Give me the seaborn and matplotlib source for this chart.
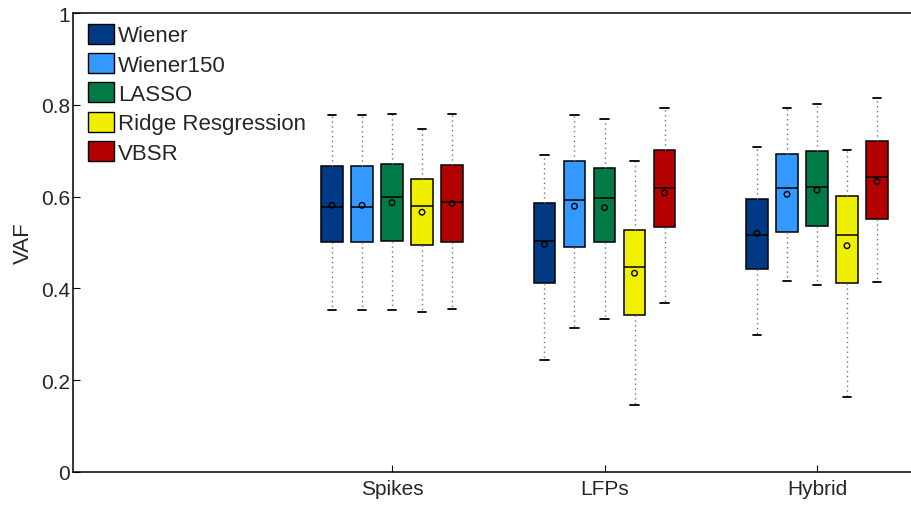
import numpy as np
import pandas as pd
import matplotlib
matplotlib.use("Agg")
import matplotlib.pyplot as plt
import seaborn as sns
from matplotlib.patches import Patch

features = ["Spikes", "LFPs", "Hybrid"]
methods = ["Wiener", "Wiener150", "LASSO", "Ridge Resgression", "VBSR"]
colors = ["#003a85", "#3399ff", "#007b47", "#f0ef00", "#b50000"]

# per feature: [whisker_low, q1, median, q3, whisker_high]
wiener = [[0.354, 0.502, 0.577, 0.666, 0.777],
          [0.245, 0.411, 0.503, 0.585, 0.691],
          [0.298, 0.443, 0.517, 0.595, 0.707]]
wiener150 = [[0.354, 0.502, 0.577, 0.666, 0.777],
             [0.314, 0.491, 0.593, 0.678, 0.777],
             [0.416, 0.523, 0.619, 0.693, 0.793]]
lasso = [[0.353, 0.504, 0.600, 0.670, 0.780],
         [0.334, 0.502, 0.598, 0.662, 0.770],
         [0.407, 0.536, 0.622, 0.700, 0.801]]
ridge = [[0.349, 0.495, 0.579, 0.639, 0.747],
         [0.145, 0.341, 0.447, 0.528, 0.678],
         [0.164, 0.412, 0.517, 0.601, 0.702]]
vbsr = [[0.355, 0.502, 0.588, 0.668, 0.780],
        [0.369, 0.533, 0.618, 0.702, 0.792],
        [0.415, 0.552, 0.643, 0.721, 0.814]]

means_wiener = [0.581, 0.496, 0.520]
means_wiener150 = [0.581, 0.579, 0.605]
means_lasso = [0.587, 0.576, 0.614]
means_ridge = [0.566, 0.433, 0.493]
means_vbsr = [0.585, 0.608, 0.633]

yticks = [0, 0.2, 0.4, 0.6, 0.8, 1]
ytick_labels = ["0", "0.2", "0.4", "0.6", "0.8", "1"]

all_stats = [wiener, wiener150, lasso, ridge, vbsr]
all_means = [means_wiener, means_wiener150, means_lasso, means_ridge, means_vbsr]

rows = []
for m, stats in zip(methods, all_stats):
    for f, s in zip(features, stats):
        for v in s:
            rows.append({"feature": f, "method": m, "VAF": v})
df = pd.DataFrame(rows)

sns.set_theme(style="white")
plt.rcParams["font.family"] = ["Liberation Sans", "DejaVu Sans"]
plt.rcParams["xtick.direction"] = "in"
plt.rcParams["ytick.direction"] = "in"

fig = plt.figure(figsize=(9.12, 5.06), dpi=100)
px_left, px_right, px_top, px_bottom = 73, 925, 14, 473
axw, axh = px_right - px_left, px_bottom - px_top
ax = fig.add_axes([px_left / 912, 1 - px_bottom / 506, axw / 912, axh / 506])

n = len(methods)
dodge_width = 0.706
step = dodge_width / n

sns.boxplot(data=df, x="feature", y="VAF", hue="method", order=features,
            hue_order=methods, palette=colors, saturation=1, whis=(0, 100),
            width=dodge_width, gap=0.28, linecolor="black", linewidth=1.1,
            showfliers=False, legend=False, ax=ax,
            whiskerprops=dict(linestyle=(0, (1, 2.5)), color="0.45", linewidth=1),
            capprops=dict(color="black", linewidth=1.3),
            medianprops=dict(color="black", linewidth=1.1),
            capwidths=0.041)

mx, my = [], []
for j, means in enumerate(all_means):
    for i, v in enumerate(means):
        mx.append(i + (j - (n - 1) / 2) * step)
        my.append(v)
ax.scatter(mx, my, s=16, facecolors="none", edgecolors="black", linewidths=1, zorder=6)

scale = 212.5
left = -(392 - px_left) / scale
right = (px_right - 392) / scale
ax.set_xlim(left, right)
ax.set_ylim(0, 1)
ax.set_xticks(range(len(features)))
ax.set_xticklabels(features, fontsize=15)
ax.set_yticks(yticks)
ax.set_yticklabels(ytick_labels, fontsize=15)
ax.tick_params(axis="x", length=5, width=0.8, color="black", pad=5, bottom=True)
ax.tick_params(axis="y", length=5, width=0.8, color="black", pad=2, left=True)
ax.set_xlabel("")
ax.set_ylabel("VAF", fontsize=16, labelpad=5)
for s in ["left", "bottom", "top"]:
    ax.spines[s].set_visible(True)
    ax.spines[s].set_color("black")
    ax.spines[s].set_linewidth(1.1)
ax.spines["right"].set_visible(False)

handles = [Patch(facecolor=c, edgecolor="black", linewidth=1) for c in colors]
ax.legend(handles, methods, loc="upper left",
          bbox_to_anchor=(15.3 / axw, 1 - 10.5 / axh),
          frameon=False, fontsize=16, handlelength=1.17, handleheight=1.02,
          handletextpad=0.15, labelspacing=0.3, borderaxespad=0, borderpad=0)

fig.savefig("out.png", dpi=100)
